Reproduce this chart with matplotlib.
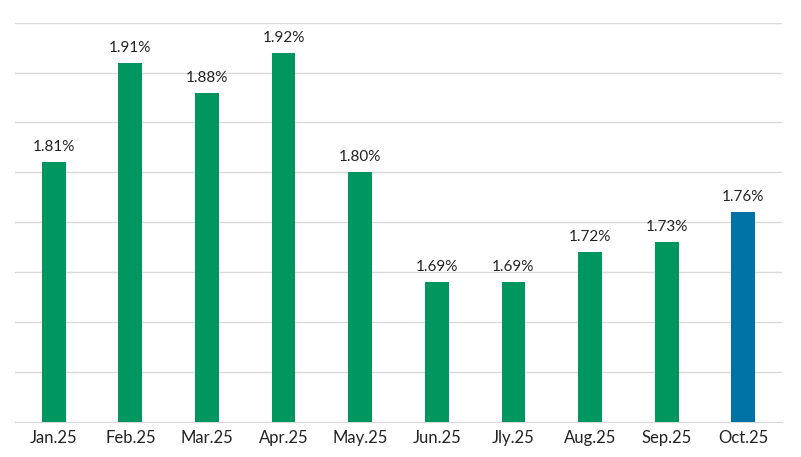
import matplotlib.pyplot as plt

months = ['Jan.25', 'Feb.25', 'Mar.25', 'Apr.25', 'May.25',
          'Jun.25', 'Jly.25', 'Aug.25', 'Sep.25', 'Oct.25']
rates = [1.81, 1.91, 1.88, 1.92, 1.80, 1.69, 1.69, 1.72, 1.73, 1.76]

green = '#00965f'
blue = '#0073a6'
colors = [green] * (len(rates) - 1) + [blue]

plt.rcParams['font.family'] = ['Lato', 'DejaVu Sans']

fig = plt.figure(figsize=(8.01, 4.57), dpi=100)
W, H = 801, 457
ax = fig.add_axes([15.4 / W, (H - 421.7) / H, (781.6 - 15.4) / W, (421.7 - 22.7) / H])

x = range(len(months))
ax.bar(x, rates, width=0.31, color=colors, zorder=3)

for i, v in enumerate(rates):
    ax.text(i, v + 0.008, f'{v:.2f}%', ha='center', va='bottom',
            fontsize=11, color='#222222')

ax.set_xlim(-0.5, len(months) - 0.5)
ax.set_ylim(1.55, 1.95)
ax.set_yticks([1.55 + 0.05 * k for k in range(9)])
ax.yaxis.grid(True, color='#d9d9d9', linewidth=1, zorder=0)
ax.tick_params(axis='y', left=False, labelleft=False)
ax.set_xticks(list(x))
ax.set_xticklabels(months, fontsize=12, color='#222222')
ax.tick_params(axis='x', length=0, pad=6)

for s in ['top', 'right', 'left']:
    ax.spines[s].set_visible(False)
ax.spines['bottom'].set_color('#d9d9d9')

fig.savefig('out.png', dpi=100)
